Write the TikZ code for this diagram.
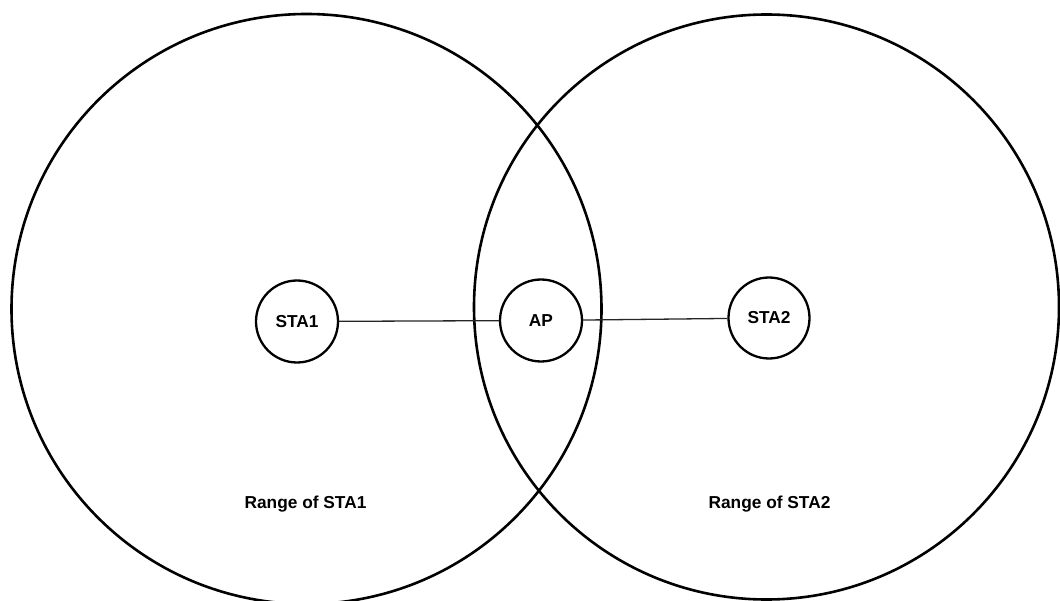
\documentclass[tikz,border=0pt]{standalone}
\usepackage{fontspec}
\setmainfont{Liberation Sans}
\begin{document}
\begin{tikzpicture}[x=1pt,y=-1pt,
  coverage/.style={draw=black,line width=2.6pt},
  station/.style={circle,draw=black,line width=2.3pt,minimum size=82pt,inner sep=0pt,
    font=\fontsize{17.3}{20}\selectfont\bfseries},
  link/.style={draw=black!85,line width=1.3pt},
  rangelabel/.style={font=\fontsize{17.3}{20}\selectfont\bfseries}]
  % canvas
  \clip (0,0) rectangle (1060,601);
  \fill[white] (0,0) rectangle (1060,601);
  % coverage areas
  \draw[coverage] (306.5,309) circle[radius=295];
  \draw[coverage] (766.5,307) circle[radius=292.5];
  % stations and access point
  \node[station] (sta1) at (297,321.5) {STA1};
  \node[station] (ap) at (541,320.5) {AP};
  \node[station,minimum size=81pt] (sta2) at (769,318) {STA2};
  % links
  \draw[link] (sta1) -- (ap);
  \draw[link] (ap) -- (sta2);
  % range captions
  \node[rangelabel] (r1) at (305.5,504.5) {Range of STA1};
  \node[rangelabel] (r2) at (769.5,504.5) {Range of STA2};
\end{tikzpicture}
\end{document}
